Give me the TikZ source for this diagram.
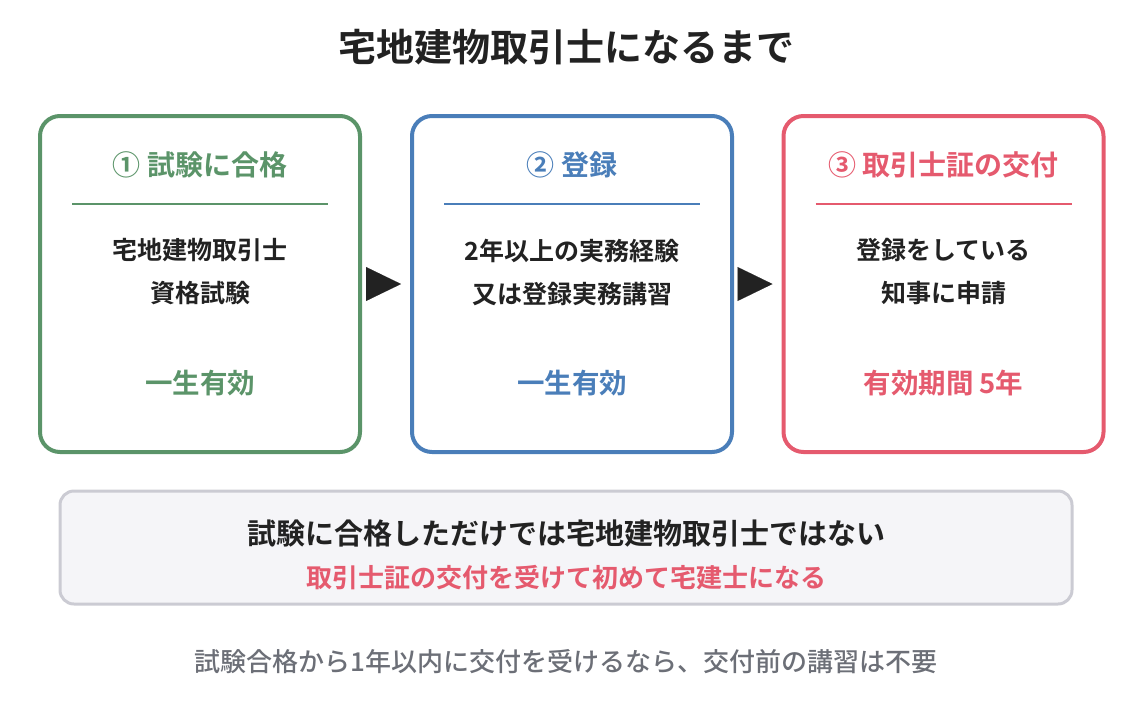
\documentclass[tikz,border=0pt]{standalone}
\usepackage{fontspec}
\setmainfont{Noto Sans CJK JP}[BoldFont={Noto Sans CJK JP Medium}]
\newfontfamily\heavy{Noto Sans CJK JP Bold}
\usetikzlibrary{arrows.meta}
\definecolor{stepgreen}{HTML}{5B9469}
\definecolor{stepblue}{HTML}{4A7EB9}
\definecolor{stepred}{HTML}{E55A6E}
\definecolor{inkdark}{HTML}{222222}
\definecolor{inkgray}{HTML}{6C6F77}
\definecolor{notefill}{HTML}{F5F5F8}
\definecolor{noteline}{HTML}{CBCBD3}
\newcommand{\boxw}{320pt}
\newcommand{\boxh}{336pt}
\tikzset{
  stepbox/.style={draw=#1, line width=4pt, rounded corners=20pt, minimum width=\boxw, minimum height=\boxh},
  head/.style={text=#1, font=\fontsize{28}{30}\selectfont\heavy},
  body/.style={text=inkdark, align=center, font=\fontsize{25}{43}\selectfont\heavy},
  valid/.style={text=#1, font=\fontsize{27.5}{30}\selectfont\heavy},
  rule/.style={draw=#1, line width=2pt},
  arr/.style={-{Triangle[length=35pt,width=34pt]}, line width=0.1pt, inkdark, shorten <=8pt, shorten >=9pt}
}
\begin{document}
\begin{tikzpicture}[x=1pt,y=-1pt]
\useasboundingbox (0,0) rectangle (1132,716);
% title
\node[text=inkdark, font=\fontsize{38}{40}\selectfont\heavy] (title) at (566,47) {宅地建物取引士になるまで};
% step boxes
\node[stepbox=stepgreen] (b1) at (200,284) {};
\node[stepbox=stepblue] (b2) at (572,284) {};
\node[stepbox=stepred] (b3) at (943.5,284) {};
% step 1
\node[head=stepgreen] (h1) at (200,165) {① 試験に合格};
\draw[rule=stepgreen] (72,204) -- (328,204);
\node[body] (t1) at (200,272) {宅地建物取引士\\資格試験};
\node[valid=stepgreen] (v1) at (200,383) {一生有効};
% step 2
\node[head=stepblue] (h2) at (572,165) {② 登録};
\draw[rule=stepblue] (444,204) -- (700,204);
\node[body] (t2) at (572,272) {2年以上の実務経験\\又は登録実務講習};
\node[valid=stepblue] (v2) at (572,383) {一生有効};
% step 3
\node[head=stepred] (h3) at (943.5,165) {③ 取引士証の交付};
\draw[rule=stepred] (815.5,204) -- (1071.5,204);
\node[body] (t3) at (943.5,272) {登録をしている\\知事に申請};
\node[valid=stepred] (v3) at (943.5,383) {有効期間 5年};
% arrows
\draw[arr] (b1.east) -- (b2.west);
\draw[arr] (b2.east) -- (b3.west);
% note
\node[draw=noteline, fill=notefill, line width=3pt, rounded corners=14pt, minimum width=1012pt, minimum height=113pt] (note) at (566,547.5) {};
\node[text=inkdark, font=\fontsize{29}{30}\selectfont\heavy] (n1) at (566,533) {試験に合格しただけでは宅地建物取引士ではない};
\node[text=stepred, font=\fontsize{26}{28}\selectfont\heavy] (n2) at (566,578) {取引士証の交付を受けて初めて宅建士になる};
% footer
\node[text=inkgray, font=\fontsize{26}{28}\selectfont\bfseries] (foot) at (566,662) {試験合格から1年以内に交付を受けるなら、交付前の講習は不要};
\end{tikzpicture}
\end{document}
